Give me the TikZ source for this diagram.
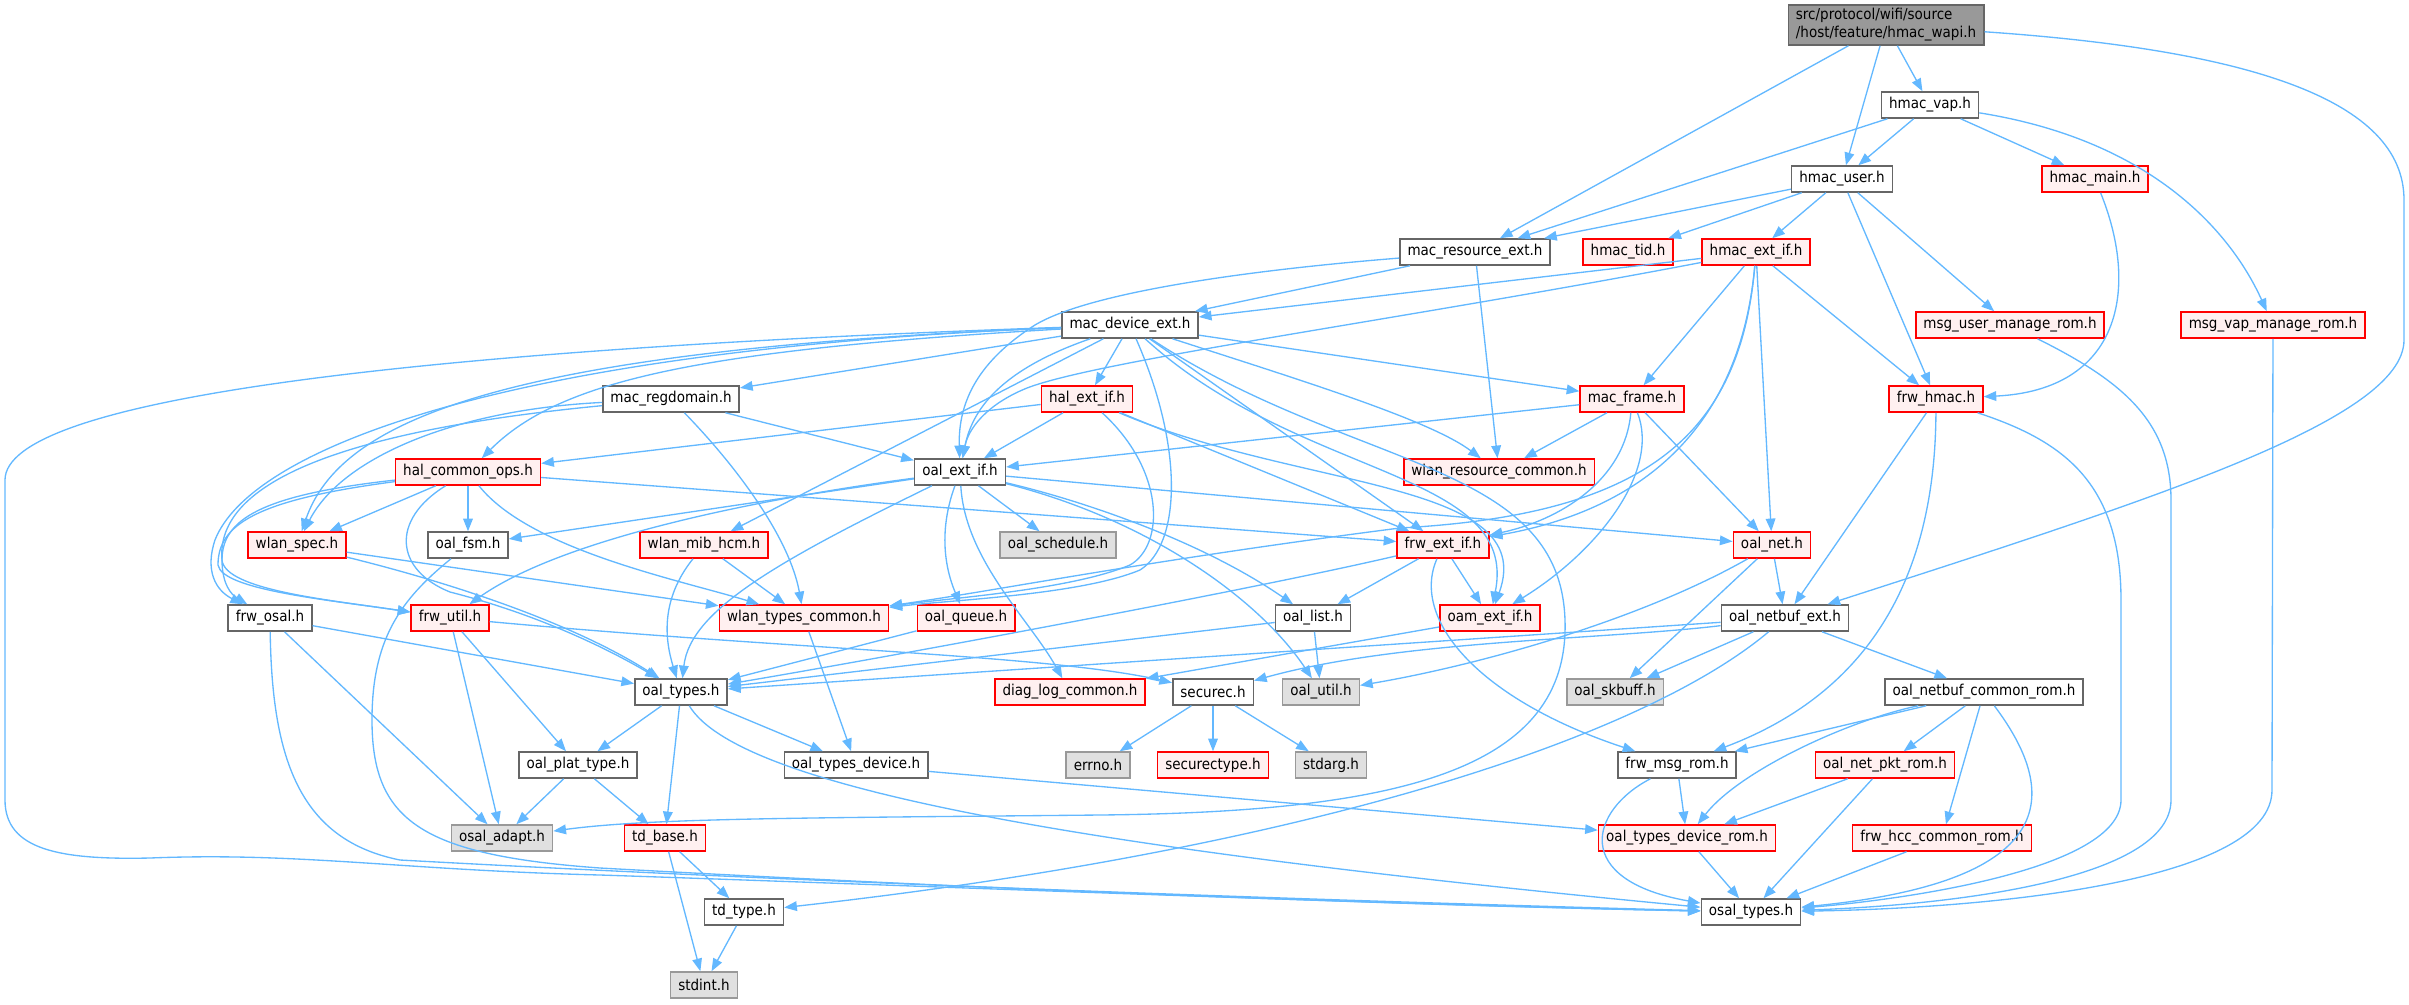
\documentclass[tikz,border=0pt]{standalone}
\usepackage{fontspec}
\setmainfont{DejaVu Sans}[FakeStretch=0.9]
\usetikzlibrary{arrows.meta}
\definecolor{edgeblue}{HTML}{63B8FF}
\definecolor{redfill}{HTML}{FFF0F0}
\definecolor{extfill}{HTML}{E0E0E0}
\definecolor{rootfill}{HTML}{999999}
\definecolor{boxline}{HTML}{666666}
\definecolor{extline}{HTML}{999999}

\begin{document}
\begin{tikzpicture}
				[x=0.3pt,y=0.3pt,
				every node/.style={rectangle, draw=boxline, fill=white, line width=0.45pt, minimum height=7.8pt, inner xsep=2.3pt, inner ysep=0pt, font=\fontsize{4.5}{5.4}\selectfont},
				trunc/.style={draw=red, fill=redfill},
				ext/.style={draw=extline, fill=extfill},
				root/.style={fill=rootfill, minimum height=12pt, align=left},
				dep/.style={edgeblue, line width=0.4pt, -{Triangle[length=3.8pt,width=2.9pt]}}]
				\useasboundingbox (0,0) rectangle (2409,-1004);
				\node (1) [root] at (1886,-25) {src/protocol/wifi/source\\/host/feature/hmac\_wapi.h};
				\node (2) at (1930,-105) {hmac\_vap.h};
				\node (3) at (1842,-179) {hmac\_user.h};
				\node (4) [trunc] at (2095,-179) {hmac\_main.h};
				\node (5) at (1475,-252) {mac\_resource\_ext.h};
				\node (6) [trunc] at (1628,-252) {hmac\_tid.h};
				\node (7) [trunc] at (1756,-252) {hmac\_ext\_if.h};
				\node (8) at (1130,-325) {mac\_device\_ext.h};
				\node (9) [trunc] at (2010,-325) {msg\_user\_manage\_rom.h};
				\node (10) [trunc] at (2273,-325) {msg\_vap\_manage\_rom.h};
				\node (11) at (671,-399) {mac\_regdomain.h};
				\node (12) [trunc] at (1087,-399) {hal\_ext\_if.h};
				\node (13) [trunc] at (1632,-399) {mac\_frame.h};
				\node (14) [trunc] at (1936,-399) {frw\_hmac.h};
				\node (15) [trunc] at (468,-472) {hal\_common\_ops.h};
				\node (16) at (960,-472) {oal\_ext\_if.h};
				\node (17) [trunc] at (1499,-472) {wlan\_resource\_common.h};
				\node (18) [trunc] at (297,-545) {wlan\_spec.h};
				\node (19) at (468,-545) {oal\_fsm.h};
				\node (20) [trunc] at (704,-545) {wlan\_mib\_hcm.h};
				\node (21) [ext] at (1058,-545) {oal\_schedule.h};
				\node (22) [trunc] at (1443,-545) {frw\_ext\_if.h};
				\node (23) [trunc] at (1772,-545) {oal\_net.h};
				\node (24) at (270,-618) {frw\_osal.h};
				\node (25) [trunc] at (450,-618) {frw\_util.h};
				\node (26) [trunc] at (804,-618) {wlan\_types\_common.h};
				\node (27) [trunc] at (966,-618) {oal\_queue.h};
				\node (28) at (1313,-618) {oal\_list.h};
				\node (29) [trunc] at (1490,-618) {oam\_ext\_if.h};
				\node (30) at (1785,-618) {oal\_netbuf\_ext.h};
				\node (31) at (681,-692) {oal\_types.h};
				\node (32) [trunc] at (1070,-692) {diag\_log\_common.h};
				\node (33) at (1213,-692) {securec.h};
				\node (34) [ext] at (1321,-692) {oal\_util.h};
				\node (35) [ext] at (1615,-692) {oal\_skbuff.h};
				\node (36) at (1984,-692) {oal\_netbuf\_common\_rom.h};
				\node (37) at (578,-765) {oal\_plat\_type.h};
				\node (38) at (856,-765) {oal\_types\_device.h};
				\node (39) [ext] at (1098,-765) {errno.h};
				\node (40) [trunc] at (1213,-765) {securectype.h};
				\node (41) [ext] at (1331,-765) {stdarg.h};
				\node (42) at (1677,-765) {frw\_msg\_rom.h};
				\node (43) [trunc] at (1885,-765) {oal\_net\_pkt\_rom.h};
				\node (44) [ext] at (502,-838) {osal\_adapt.h};
				\node (45) [trunc] at (665,-838) {td\_base.h};
				\node (46) [trunc] at (1687,-838) {oal\_types\_device\_rom.h};
				\node (47) [trunc] at (1942,-838) {frw\_hcc\_common\_rom.h};
				\node (48) at (744,-912) {td\_type.h};
				\node (49) at (1751,-912) {osal\_types.h};
				\node (50) [ext] at (704,-985) {stdint.h};
				\draw [dep] (1) to (5);
				\draw [dep] (1) to (3);
				\draw [dep] (1) to (2);
				\draw [dep] (1) .. controls (2250,-50) and (2404,-100) .. (2404,-200) -- (2404,-340) .. controls (2404,-420) and (2150,-500) .. (30);
				\draw [dep] (2) to (5);
				\draw [dep] (2) to (3);
				\draw [dep] (2) to (4);
				\draw [dep] (2) .. controls (2150,-140) and (2230,-230) .. (10);
				\draw [dep] (3) to (5);
				\draw [dep] (3) to (6);
				\draw [dep] (3) to (7);
				\draw [dep] (3) to (14);
				\draw [dep] (3) to (9);
				\draw [dep] (4) .. controls (2140,-290) and (2120,-390) .. (14);
				\draw [dep] (9) .. controls (2120,-380) and (2171,-420) .. (2171,-500) -- (2171,-800) .. controls (2171,-880) and (1950,-905) .. (49);
				\draw [dep] (10) -- (2272,-790) .. controls (2272,-880) and (2000,-908) .. (49);
				\draw [dep] (5) to (8);
				\draw [dep] (5) .. controls (1250,-270) and (1090,-292) .. (1035,-325) .. controls (980,-360) and (958,-400) .. (16);
				\draw [dep] (5) to (17);
				\draw [dep] (7) to (8);
				\draw [dep] (7) .. controls (1400,-320) and (1100,-360) .. (1027,-388) .. controls (985,-405) and (968,-430) .. (16);
				\draw [dep] (7) to (13);
				\draw [dep] (7) .. controls (1740,-430) and (1640,-510) .. (22);
				\draw [dep] (7) .. controls (1740,-440) and (1640,-515) .. (1400,-528) .. controls (1150,-560) and (1000,-590) .. (26);
				\draw [dep] (7) to (23);
				\draw [dep] (7) to (14);
				\draw [dep] (8) to (11);
				\draw [dep] (8) to (12);
				\draw [dep] (8) .. controls (1000,-370) and (972,-410) .. (16);
				\draw [dep] (8) .. controls (700,-350) and (560,-380) .. (15);
				\draw [dep] (8) .. controls (500,-350) and (340,-420) .. (18);
				\draw [dep] (8) .. controls (500,-350) and (250,-450) .. (215,-540) .. controls (205,-570) and (215,-590) .. (24);
				\draw [dep] (8) .. controls (400,-350) and (5,-400) .. (5,-480) -- (5,-800) .. controls (5,-850) and (60,-860) .. (150,-858) .. controls (300,-852) and (400,-870) .. (600,-875) .. controls (900,-885) and (1400,-905) .. (49);
				\draw [dep] (8) to (20);
				\draw [dep] (8) .. controls (1185,-450) and (1180,-545) .. (1140,-570) .. controls (1080,-595) and (950,-600) .. (26);
				\draw [dep] (8) to (13);
				\draw [dep] (8) .. controls (1300,-380) and (1430,-420) .. (17);
				\draw [dep] (8) to (22);
				\draw [dep] (8) .. controls (1300,-480) and (1520,-470) .. (29);
				\draw [dep] (8) .. controls (1350,-470) and (1560,-460) .. (1565,-620) .. controls (1570,-770) and (1400,-812) .. (1100,-815) .. controls (800,-818) and (650,-818) .. (44);
				\draw [dep] (11) to (16);
				\draw [dep] (11) .. controls (740,-470) and (790,-540) .. (26);
				\draw [dep] (11) .. controls (450,-410) and (340,-460) .. (18);
				\draw [dep] (11) .. controls (350,-430) and (215,-480) .. (222,-560) .. controls (225,-590) and (330,-600) .. (25);
				\draw [dep] (12) to (16);
				\draw [dep] (12) to (15);
				\draw [dep] (12) to (22);
				\draw [dep] (12) .. controls (1300,-490) and (1540,-480) .. (29);
				\draw [dep] (12) .. controls (1165,-470) and (1165,-545) .. (1130,-565) .. controls (1070,-590) and (950,-598) .. (26);
				\draw [dep] (13) to (16);
				\draw [dep] (13) to (17);
				\draw [dep] (13) .. controls (1625,-480) and (1560,-520) .. (22);
				\draw [dep] (13) .. controls (1660,-470) and (1600,-550) .. (29);
				\draw [dep] (13) to (23);
				\draw [dep] (14) to (30);
				\draw [dep] (14) .. controls (1935,-600) and (1850,-700) .. (42);
				\draw [dep] (14) .. controls (2060,-440) and (2121,-480) .. (2121,-600) -- (2121,-800) .. controls (2121,-870) and (1900,-900) .. (49);
				\draw [dep] (15) to (18);
				\draw [dep] (15) to (19);
				\draw [dep] (15) .. controls (260,-495) and (222,-520) .. (222,-560) .. controls (222,-585) and (232,-595) .. (24);
				\draw [dep] (15) .. controls (255,-500) and (218,-525) .. (218,-565) .. controls (222,-590) and (330,-600) .. (25);
				\draw [dep] (15) .. controls (390,-520) and (395,-570) .. (450,-592) .. controls (540,-615) and (610,-650) .. (31);
				\draw [dep] (15) .. controls (530,-550) and (680,-580) .. (26);
				\draw [dep] (15) to (22);
				\draw [dep] (16) to (19);
				\draw [dep] (16) to (21);
				\draw [dep] (16) .. controls (750,-500) and (560,-540) .. (25);
				\draw [dep] (16) .. controls (780,-560) and (690,-610) .. (31);
				\draw [dep] (16) .. controls (935,-540) and (950,-580) .. (27);
				\draw [dep] (16) .. controls (965,-560) and (1030,-620) .. (32);
				\draw [dep] (16) .. controls (1150,-520) and (1260,-600) .. (34);
				\draw [dep] (16) .. controls (1080,-500) and (1200,-540) .. (28);
				\draw [dep] (16) to (23);
				\draw [dep] (18) to (26);
				\draw [dep] (18) .. controls (420,-575) and (560,-615) .. (31);
				\draw [dep] (19) .. controls (400,-600) and (372,-640) .. (372,-720) .. controls (372,-820) and (420,-855) .. (600,-868) .. controls (1000,-890) and (1400,-905) .. (49);
				\draw [dep] (20) to (26);
				\draw [dep] (20) .. controls (660,-600) and (665,-640) .. (31);
				\draw [dep] (22) to (28);
				\draw [dep] (22) to (29);
				\draw [dep] (22) .. controls (1250,-590) and (900,-655) .. (31);
				\draw [dep] (22) .. controls (1410,-620) and (1480,-700) .. (42);
				\draw [dep] (23) to (30);
				\draw [dep] (23) to (35);
				\draw [dep] (23) .. controls (1640,-620) and (1480,-665) .. (34);
				\draw [dep] (24) to (31);
				\draw [dep] (24) to (44);
				\draw [dep] (24) .. controls (272,-760) and (300,-840) .. (400,-860) .. controls (800,-882) and (1300,-900) .. (49);
				\draw [dep] (25) .. controls (800,-650) and (1050,-655) .. (33);
				\draw [dep] (25) to (37);
				\draw [dep] (25) to (44);
				\draw [dep] (26) to (38);
				\draw [dep] (27) to (31);
				\draw [dep] (28) to (31);
				\draw [dep] (28) to (34);
				\draw [dep] (29) to (32);
				\draw [dep] (30) to (35);
				\draw [dep] (30) to (36);
				\draw [dep] (30) to (31);
				\draw [dep] (30) .. controls (1600,-640) and (1400,-640) .. (33);
				\draw [dep] (30) .. controls (1640,-740) and (1300,-850) .. (48);
				\draw [dep] (31) to (37);
				\draw [dep] (31) to (45);
				\draw [dep] (31) to (38);
				\draw [dep] (31) .. controls (740,-790) and (1100,-850) .. (49);
				\draw [dep] (33) to (39);
				\draw [dep] (33) to (40);
				\draw [dep] (33) to (41);
				\draw [dep] (36) to (42);
				\draw [dep] (36) to (43);
				\draw [dep] (36) .. controls (1850,-720) and (1740,-770) .. (46);
				\draw [dep] (36) to (47);
				\draw [dep] (36) .. controls (2050,-780) and (2080,-880) .. (49);
				\draw [dep] (37) to (44);
				\draw [dep] (37) to (45);
				\draw [dep] (38) to (46);
				\draw [dep] (42) to (46);
				\draw [dep] (42) .. controls (1590,-810) and (1570,-880) .. (49);
				\draw [dep] (43) to (46);
				\draw [dep] (43) to (49);
				\draw [dep] (45) to (48);
				\draw [dep] (45) to (50);
				\draw [dep] (46) to (49);
				\draw [dep] (47) to (49);
				\draw [dep] (48) to (50);
		\end{tikzpicture}
\end{document}
